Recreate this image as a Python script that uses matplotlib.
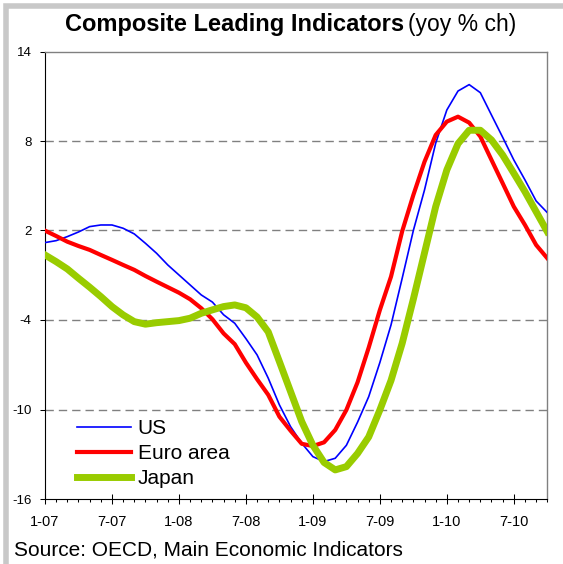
import matplotlib
matplotlib.use("Agg")
import matplotlib.pyplot as plt
from matplotlib.patches import Rectangle

plt.rcParams['font.family'] = ['Liberation Sans', 'DejaVu Sans']

# monthly, Jan 2007 .. Oct 2010
months = list(range(46))
tick_pos = [0, 6, 12, 18, 24, 30, 36, 42]
tick_lab = ['1-07', '7-07', '1-08', '7-08', '1-09', '7-09', '1-10', '7-10']
y_ticks = [-16, -10, -4, 2, 8, 14]
grid_vals = [-10, -4, 2, 8]

us = [1.19, 1.32, 1.59, 1.90, 2.26, 2.37, 2.37, 2.15, 1.77, 1.14,
      0.47, -0.31, -0.98, -1.65, -2.32, -2.80, -3.65, -4.22, -5.25, -6.34,
      -7.90, -9.69, -11.15, -12.26, -13.16, -13.49, -13.27, -12.40, -10.85, -9.14,
      -6.85, -4.33, -1.20, 2.00, 4.72, 7.85, 10.08, 11.35, 11.78, 11.24,
      9.74, 8.25, 6.73, 5.39, 3.98, 3.20]
euro = [1.99, 1.63, 1.25, 0.96, 0.70, 0.36, 0.03, -0.31, -0.64, -1.05,
        -1.43, -1.80, -2.17, -2.61, -3.21, -3.95, -4.90, -5.62, -6.86, -7.97,
        -9.02, -10.48, -11.42, -12.30, -12.45, -12.20, -11.37, -10.03, -8.18, -5.85,
        -3.33, -1.09, 1.95, 4.38, 6.61, 8.40, 9.30, 9.63, 9.23, 8.30,
        6.73, 5.17, 3.60, 2.37, 1.03, 0.14]
japan = [0.36, -0.09, -0.58, -1.20, -1.80, -2.43, -3.10, -3.66, -4.11, -4.28,
         -4.18, -4.11, -4.04, -3.88, -3.55, -3.32, -3.10, -2.99, -3.18, -3.80,
         -4.80, -6.79, -8.80, -10.81, -12.40, -13.55, -14.05, -13.83, -12.95, -11.84,
         -10.03, -8.05, -5.56, -2.60, 0.50, 3.60, 6.06, 7.82, 8.72, 8.72,
         8.07, 7.06, 5.84, 4.60, 3.26, 1.92]

W, H = 563, 564
fig = plt.figure(figsize=(W / 100, H / 100), dpi=100)
ax = fig.add_axes([45 / W, 1 - 499 / H, 502.3 / W, 447.5 / H])

for g in grid_vals:
    ax.axhline(g, color='#808080', lw=1.0, ls=(0, (6, 3.6)), zorder=1)

ax.plot(months, us, color='#0000ff', lw=1.2, label='US', zorder=3)
ax.plot(months, euro, color='#ff0000', lw=3.0, label='Euro area', zorder=3)
ax.plot(months, japan, color='#99cc00', lw=5.0, label='Japan', zorder=3)

ax.set_xlim(0, 45)
ax.set_ylim(-16, 14)
ax.set_xticks(tick_pos)
ax.set_xticklabels(tick_lab)
ax.set_xticks(months, minor=True)
ax.set_yticks(y_ticks)
ax.set_yticklabels([str(v) for v in y_ticks])

ax.tick_params(axis='x', which='major', direction='inout', length=7, width=0.75,
               labelsize=10.5, pad=8)
ax.tick_params(axis='x', which='minor', direction='out', length=2.5, width=0.75)
ax.tick_params(axis='y', which='major', direction='out', length=3.6, width=0.75,
               labelsize=9.5, pad=6)

for s in ['left', 'bottom']:
    ax.spines[s].set_color('black')
    ax.spines[s].set_linewidth(0.8)
for s in ['top', 'right']:
    ax.spines[s].set_color('#808080')
    ax.spines[s].set_linewidth(1.0)

ax.legend(loc='upper left', bbox_to_anchor=(0.063, 0.179), frameon=False,
          fontsize=15, handlelength=2.62, handletextpad=0.31, labelspacing=0.3,
          borderpad=0, borderaxespad=0)

fig.text(65 / W, 1 - 31 / H, 'Composite Leading Indicators', fontsize=17,
         fontweight='bold', ha='left', va='baseline')
fig.text(408 / W, 1 - 31 / H, '(yoy % ch)', fontsize=16.5, ha='left', va='baseline')
fig.text(14 / W, 1 - 555 / H, 'Source: OECD, Main Economic Indicators', fontsize=15,
         ha='left', va='baseline')

# grey chart-area frame (top and left edges)
fig.patches.append(Rectangle((5.5 / W, -0.1), 2, 1.1 - 5.5 / H, transform=fig.transFigure,
                             fill=False, ec='#c8c8c8', lw=4, clip_on=False))

fig.savefig('out.png', dpi=100)
